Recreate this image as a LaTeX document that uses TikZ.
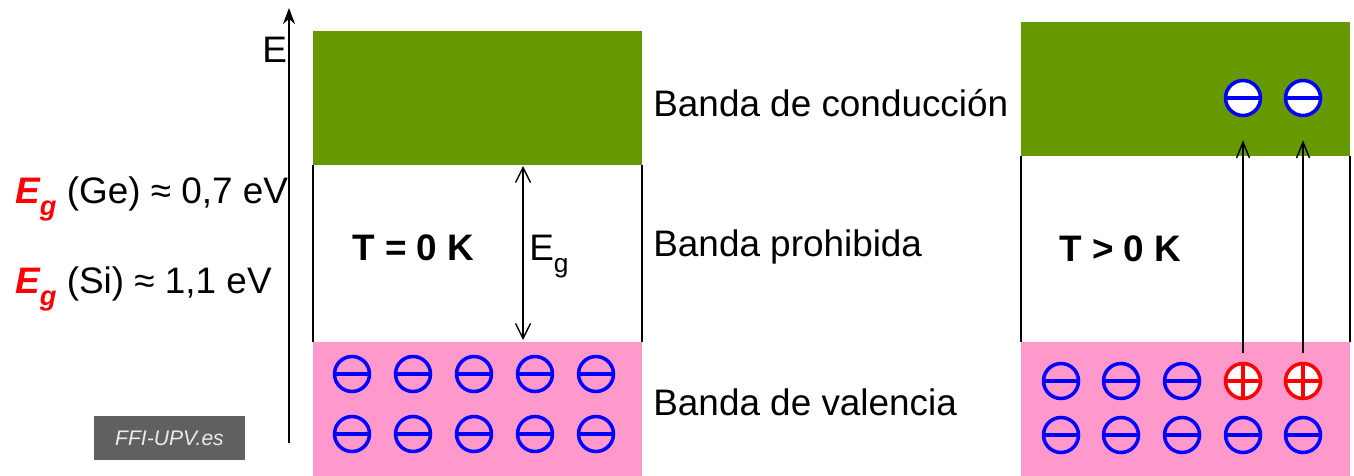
\documentclass[tikz,border=0pt]{standalone}
\usepackage{fontspec}
\setmainfont{Liberation Sans}
\usetikzlibrary{arrows.meta}

\definecolor{bandgreen}{RGB}{102,153,0}
\definecolor{bandpink}{RGB}{255,153,204}
\definecolor{markgray}{RGB}{96,96,96}

% red E_g with a lowered g
\newcommand{\redEg}{\textcolor{red}{\bfseries\itshape E\raisebox{-0.33em}{\fontsize{15.5}{15.5}\selectfont g}}}

\tikzset{
  electron/.style={circle,draw=blue,line width=2pt,minimum size=0.70cm,inner sep=0pt,
    path picture={\draw[blue,line width=2pt] (path picture bounding box.west) -- (path picture bounding box.east);}},
  hole/.style={circle,draw=red,fill=white,line width=2pt,minimum size=0.70cm,inner sep=0pt,
    path picture={\draw[red,line width=2pt] (path picture bounding box.west) -- (path picture bounding box.east)
      (path picture bounding box.north) -- (path picture bounding box.south);}},
  label/.style={inner sep=0pt,anchor=base west},
  barb/.style={line width=0.8pt,arrows={-Straight Barb[length=3.2mm,width=2.6mm]}}
}

\begin{document}
\begin{tikzpicture}[x=0.02cm,y=-0.02cm,font=\fontsize{21}{25}\selectfont]
  \useasboundingbox (0,0) rectangle (1354,476);

  % energy axis
  \draw[line width=1.2pt,-{Stealth[length=3.2mm,width=2.4mm]}] (289,443) -- (289,8);
  \node[label] (E) at (262,63) {E};

  % band gap values
  \node[label] (ge) at (15,203) {\redEg\ (Ge) ≈ 0,7 eV};
  \node[label] (si) at (15,293) {\redEg\ (Si) ≈ 1,1 eV};

  % T = 0 K
  \fill[bandgreen] (313,31) rectangle (642,165);
  \fill[bandpink] (313,342) rectangle (642,476);
  \draw[line width=0.6pt] (313,165) -- (313,342) (642,165) -- (642,342);
  \node[label,font=\fontsize{21}{25}\selectfont\bfseries] (t0) at (352,260) {T = 0 K};
  \coordinate (gtop) at (523,166);
  \coordinate (gbot) at (523,340);
  \draw[barb,arrows={Straight Barb[length=3mm,width=3mm]-Straight Barb[length=3mm,width=3mm]}] (gtop) -- (gbot);
  \node[label] (eg) at (529,260) {E\raisebox{-0.33em}{\fontsize{15}{15}\selectfont g}};
  \foreach \x [count=\i] in {352,413,474,535,596} {
    \node[electron] (a\i) at (\x,374) {};
    \node[electron] (b\i) at (\x,434) {};
  }

  % band names
  \node[label] (cond) at (653,117) {Banda de conducción};
  \node[label] (proh) at (653,256) {Banda prohibida};
  \node[label] (val) at (653,415) {Banda de valencia};

  % T > 0 K
  \fill[bandgreen] (1021,22) rectangle (1350,156);
  \fill[bandpink] (1021,342) rectangle (1350,476);
  \draw[line width=0.6pt] (1021,156) -- (1021,342) (1350,156) -- (1350,342);
  \node[label,font=\fontsize{21}{25}\selectfont\bfseries] (t1) at (1059,261) {T > 0 K};
  \foreach \x [count=\i] in {1061,1121,1182} {
    \node[electron] (c\i) at (\x,381) {};
  }
  \node[hole] (h1) at (1243,381) {};
  \node[hole] (h2) at (1303,381) {};
  \foreach \x [count=\i] in {1061,1121,1182,1243,1303} {
    \node[electron] (d\i) at (\x,435) {};
  }
  \node[electron,fill=white] (e1) at (1243,98) {};
  \node[electron,fill=white] (e2) at (1303,98) {};
  \draw[barb,shorten <=0.17cm,shorten >=0.46cm] (h1) -- (e1);
  \draw[barb,shorten <=0.17cm,shorten >=0.46cm] (h2) -- (e2);

  % watermark
  \node[fill=markgray,minimum width=3.02cm,minimum height=0.88cm,inner sep=0pt,
    text=white!92!black,font=\fontsize{12}{14}\selectfont\itshape] (mark) at (169.5,438) {FFI-UPV.es};
\end{tikzpicture}
\end{document}
